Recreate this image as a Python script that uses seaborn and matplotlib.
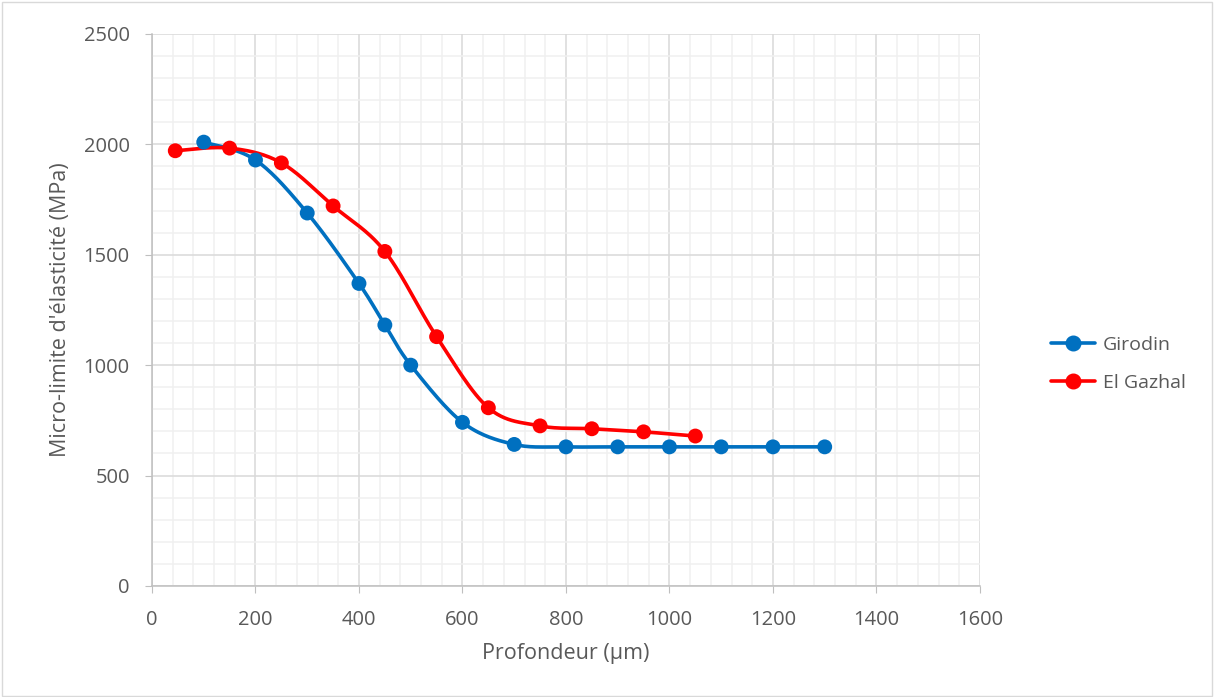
import numpy as np
import pandas as pd
import matplotlib
matplotlib.use("Agg")
import matplotlib.pyplot as plt
import seaborn as sns
from matplotlib.lines import Line2D
from matplotlib.patches import Rectangle
from matplotlib.ticker import MultipleLocator

# valeurs
girodin_x = [100, 200, 300, 400, 450, 500, 600, 700, 800, 900, 1000, 1100, 1200, 1300]
girodin_y = [2010, 1929, 1689, 1370, 1182, 1000, 741, 641, 630, 630, 630, 630, 630, 630]
gazhal_x = [45, 150, 250, 350, 450, 550, 650, 750, 850, 950, 1050]
gazhal_y = [1971, 1983, 1916, 1721, 1515, 1129, 807, 725, 712, 698, 679]

series_names = ["Girodin", "El Gazhal"]
colors = ["#0070C0", "#FF0000"]


# courbe lissée façon Excel (Catmull-Rom -> Bezier)
def smooth(x, y, n=30):
    p = np.column_stack([x, y]).astype(float)
    p = np.vstack([p[0], p, p[-1]])
    out = []
    for i in range(1, len(p) - 2):
        p0, p1, p2, p3 = p[i - 1], p[i], p[i + 1], p[i + 2]
        c1 = p1 + (p2 - p0) / 6
        c2 = p2 - (p3 - p1) / 6
        t = np.linspace(0, 1, n)[:, None]
        seg = (1 - t) ** 3 * p1 + 3 * (1 - t) ** 2 * t * c1 + 3 * (1 - t) * t ** 2 * c2 + t ** 3 * p2
        out.append(seg if i == 1 else seg[1:])
    s = np.vstack(out)
    return s[:, 0], s[:, 1]


pts = pd.concat([
    pd.DataFrame({"x": girodin_x, "y": girodin_y, "serie": series_names[0]}),
    pd.DataFrame({"x": gazhal_x, "y": gazhal_y, "serie": series_names[1]}),
])
curves = []
for name, xs, ys in [(series_names[0], girodin_x, girodin_y), (series_names[1], gazhal_x, gazhal_y)]:
    sx, sy = smooth(xs, ys)
    curves.append(pd.DataFrame({"x": sx, "y": sy, "serie": name}))
curves = pd.concat(curves)

sns.set_style("white")
plt.rcParams["font.family"] = ["Open Sans", "DejaVu Sans"]

fig = plt.figure(figsize=(12.14, 6.97), dpi=100)
ax = fig.add_axes([0.1252, 0.1593, 0.682, 0.792])
fig.patches.append(Rectangle((0.002, 0.002), 0.996, 0.995, transform=fig.transFigure,
                             fill=False, edgecolor="#d9d9d9", lw=1))

pal = dict(zip(series_names, colors))
sns.lineplot(data=curves, x="x", y="y", hue="serie", palette=pal, sort=False,
             estimator=None, lw=2.6, legend=False, ax=ax, zorder=3)
sns.scatterplot(data=pts, x="x", y="y", hue="serie", palette=pal, s=115,
                edgecolor="none", legend=False, ax=ax, zorder=4)

ax.set_xlim(0, 1600)
ax.set_ylim(0, 2500)
ax.xaxis.set_major_locator(MultipleLocator(200))
ax.xaxis.set_minor_locator(MultipleLocator(40))
ax.yaxis.set_major_locator(MultipleLocator(500))
ax.yaxis.set_minor_locator(MultipleLocator(100))
ax.grid(which="major", color="#d9d9d9", lw=1.1)
ax.grid(which="minor", color="#f0f0f0", lw=1.1)
ax.set_axisbelow(True)
for s in ["top", "right"]:
    ax.spines[s].set_visible(False)
for s in ["left", "bottom"]:
    ax.spines[s].set_color("#bfbfbf")
    ax.spines[s].set_linewidth(1.1)
ax.tick_params(which="major", length=5, color="#bfbfbf", labelsize=14.5,
               labelcolor="#595959", left=True, bottom=True)
ax.tick_params(axis="y", which="major", pad=11)
ax.tick_params(axis="x", which="major", pad=12)
ax.tick_params(which="minor", length=0)

ax.set_xlabel("Profondeur (µm)", fontsize=15.5, color="#595959", labelpad=10)
ax.set_ylabel("Micro-limite d'élasticité (MPa)", fontsize=15.5, color="#595959", labelpad=9)

handles = [Line2D([], [], color=c, lw=2.6, marker="o", ms=10.5) for c in colors]
fig.legend(handles, series_names, loc="center left", bbox_to_anchor=(0.851, 0.478),
           frameon=False, fontsize=14, labelcolor="#595959", handlelength=2.3,
           labelspacing=1.0, handletextpad=0.4)

fig.savefig("out.png", dpi=100, facecolor="white")
